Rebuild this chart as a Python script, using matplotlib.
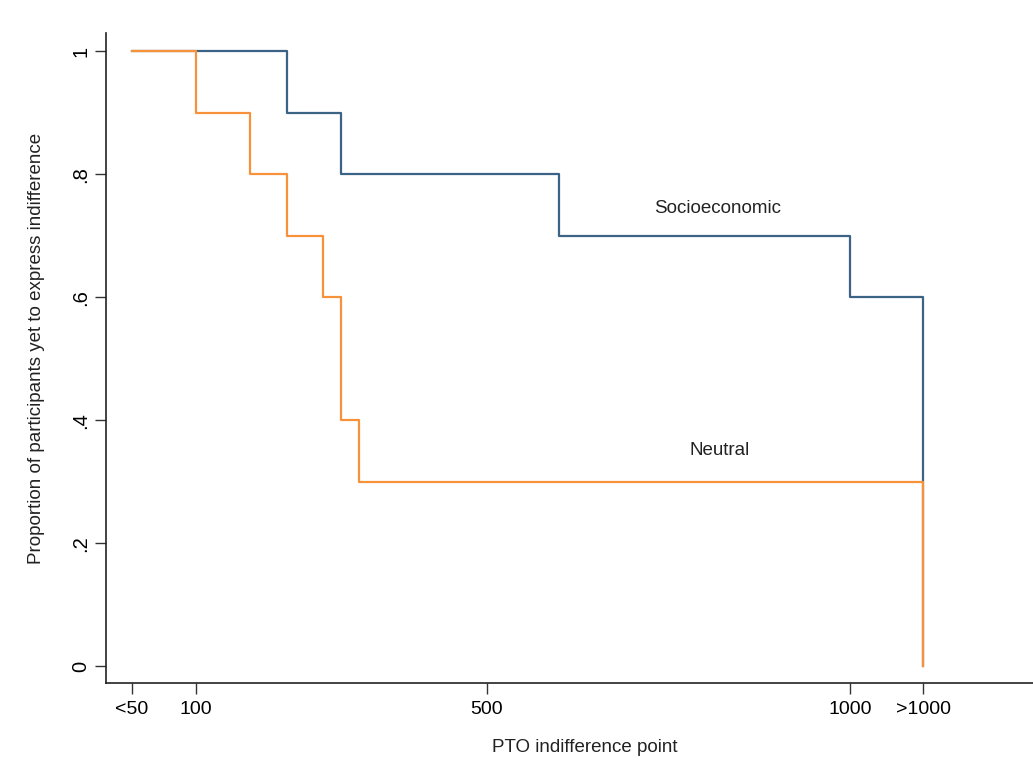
import matplotlib
matplotlib.use("Agg")
import matplotlib.pyplot as plt

plt.rcParams['font.family'] = ['Liberation Sans', 'DejaVu Sans']

# Data (PTO indifference point, survivor proportion)
socio_x = [12, 225, 300, 600, 1000, 1100]
socio_y = [1.0, 0.9, 0.8, 0.7, 0.6, 0.0]
neutral_x = [12, 100, 175, 225, 275, 300, 325, 1100]
neutral_y = [1.0, 0.9, 0.8, 0.7, 0.6, 0.4, 0.3, 0.0]

xtick_pos = [12, 100, 500, 1000, 1100]
xtick_labels = ['<50', '100', '500', '1000', '>1000']
ytick_pos = [0, 0.2, 0.4, 0.6, 0.8, 1.0]
ytick_labels = ['0', '.2', '.4', '.6', '.8', '1']

blue = '#3b6386'
orange = '#f7923a'

fig = plt.figure(figsize=(10.33, 7.65), dpi=100)
ax = fig.add_axes([105.7/1033, (765-683.3)/765, 1 - 105.7/1033, (683.3-33)/765])

ax.plot(socio_x, socio_y, drawstyle='steps-post', color=blue, lw=1.6)
ax.plot(neutral_x, neutral_y, drawstyle='steps-post', color=orange, lw=1.6)

ax.set_xlim(-23.7, 1251)
ax.set_ylim(-0.028, 1.03)

ax.set_xticks(xtick_pos)
ax.set_xticklabels(xtick_labels, fontsize=14)
ax.set_yticks(ytick_pos)
ax.set_yticklabels(ytick_labels, fontsize=14.5, rotation=90, va='center')

ax.tick_params(direction='out', length=8, width=1, color='#333333', pad=5)
ax.tick_params(axis='y', pad=3)

for s in ['top', 'right']:
    ax.spines[s].set_visible(False)
for s in ['left', 'bottom']:
    ax.spines[s].set_linewidth(1.2)
    ax.spines[s].set_color('#222222')

ax.text(818, 0.745, 'Socioeconomic', fontsize=13.5, ha='center', va='center', color='#222222')
ax.text(820, 0.35, 'Neutral', fontsize=13.5, ha='center', va='center', color='#222222')

fig.text(37/1033, 1 - 348/765, 'Proportion of participants yet to express indifference',
         rotation=90, ha='center', va='center', fontsize=13.5, color='#222222')
fig.text(585/1033, 1 - 748/765, 'PTO indifference point', ha='center', va='center',
         fontsize=13.5, color='#222222')

fig.savefig('out.png', dpi=100)
